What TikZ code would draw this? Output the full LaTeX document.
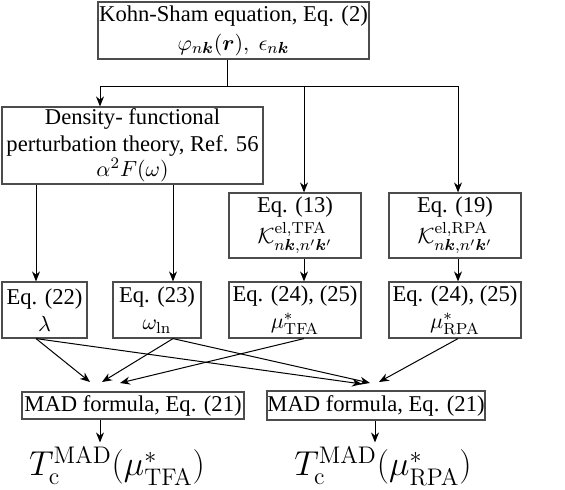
\documentclass[tikz,border=0pt]{standalone}
\usepackage{amsmath}
\usepackage{bm}
\usepackage[no-math]{fontspec}
\setmainfont{Liberation Serif}
\usetikzlibrary{arrows.meta}

\begin{document}
\begin{tikzpicture}[
    x=0.5pt, y=-0.5pt,
    box/.style={
        draw=black!70, line width=0.6pt, inner sep=0pt,
        align=center, font=\fontsize{11.3}{13.5}\selectfont
    },
    eqBox/.style={box, minimum width=66pt, minimum height=32.5pt},
    valBox/.style={box, minimum height=28pt},
    madBox/.style={box, minimum height=13.5pt},
    flow/.style={-{Stealth[length=5pt,width=4pt]}, line width=0.5pt},
    result/.style={inner sep=2pt, font=\fontsize{17}{20}\selectfont}
]
    \useasboundingbox (0,0) rectangle (565,490);

    % --- columns of the arrows ---
    \coordinate (split) at (227,87);
    \coordinate (colK) at (100,0);
    \coordinate (colL) at (36,0);
    \coordinate (colW) at (173,0);
    \coordinate (colT) at (304,0);
    \coordinate (colR) at (458,0);
    \coordinate (colML) at (100,0);
    \coordinate (colMR) at (375,0);

    % --- 1. Kohn-Sham ---
    \node[box, minimum width=135.5pt, minimum height=28.5pt] (ks) at (233.5,30.5) {
        Kohn-Sham equation, Eq. (2)\\[1pt]
        $\varphi_{n\bm{k}}(\bm{r}),\ \epsilon_{n\bm{k}}$
    };

    % --- 2. DFPT and kernels ---
    \node[box, minimum width=130.5pt, minimum height=38.5pt] (dfpt) at (132.5,145.5) {
        Density- functional\\
        perturbation theory, Ref. 56\\[-1pt]
        $\alpha^2F(\omega)$
    };
    \node[eqBox] (eq13) at (295,225.5) {
        Eq. (13)\\[2pt]
        $\mathcal{K}^{\mathrm{el,TFA}}_{n\bm{k},n'\bm{k}'}$
    };
    \node[eqBox] (eq19) at (455,225.5) {
        Eq. (19)\\[2pt]
        $\mathcal{K}^{\mathrm{el,RPA}}_{n\bm{k},n'\bm{k}'}$
    };

    % --- 3. Parameters ---
    \node[valBox, minimum width=42.5pt] (eq22) at (44.5,310) {
        Eq. (22)\\ $\lambda$
    };
    \node[valBox, minimum width=44pt] (eq23) at (157,310) {
        Eq. (23)\\ $\omega_{\ln}$
    };
    \node[valBox, minimum width=66pt] (tfa) at (295,310) {
        Eq. (24), (25)\\ $\mu^*_{\mathrm{TFA}}$
    };
    \node[valBox, minimum width=66pt] (rpa) at (455,310) {
        Eq. (24), (25)\\ $\mu^*_{\mathrm{RPA}}$
    };

    % --- 4. MAD formula and results ---
    \node[madBox, minimum width=111pt] (madL) at (133,405.5) {MAD formula, Eq. (21)};
    \node[madBox, minimum width=109pt, minimum height=14.5pt] (madR) at (376,405.5) {MAD formula, Eq. (21)};
    \node[result] (outL) at (117,466) {$T_{\mathrm{c}}^{\mathrm{MAD}}(\mu^*_{\mathrm{TFA}})$};
    \node[result] (outR) at (383,466) {$T_{\mathrm{c}}^{\mathrm{MAD}}(\mu^*_{\mathrm{RPA}})$};

    % --- arrow ends above the MAD boxes ---
    \coordinate (inL1) at (90,382);
    \coordinate (inL2) at (102,382);
    \coordinate (inL3) at (120,383);
    \coordinate (inR1) at (362,384);
    \coordinate (inR2) at (370,383);
    \coordinate (inR3) at (379,382);

    % --- connectors ---
    \draw[line width=0.5pt] (ks.south -| split) -- (split);
    \draw[flow] (split) -| (dfpt.north -| colK);
    \draw[flow] (split) -| (eq13.north -| colT);
    \draw[flow] (split) -| (eq19.north -| colR);

    \draw[flow] (dfpt.south -| colL) -- (eq22.north -| colL);
    \draw[flow] (dfpt.south -| colW) -- (eq23.north -| colW);
    \draw[flow] (eq13.south -| colT) -- (tfa.north -| colT);
    \draw[flow] (eq19.south -| colR) -- (rpa.north -| colR);

    \draw[flow] (eq22.south -| colL) -- (inL1);
    \draw[flow] (eq22.south -| colL) -- (inR1);
    \draw[flow] (eq23.south -| colW) -- (inL2);
    \draw[flow] (eq23.south -| colW) -- (inR2);
    \draw[flow] (tfa.south -| colT) -- (inL3);
    \draw[flow] (rpa.south -| colR) -- (inR3);

    \draw[flow] (madL.south -| colML) -- (outL.north -| colML);
    \draw[flow] (madR.south -| colMR) -- (outR.north -| colMR);
\end{tikzpicture}
\end{document}
